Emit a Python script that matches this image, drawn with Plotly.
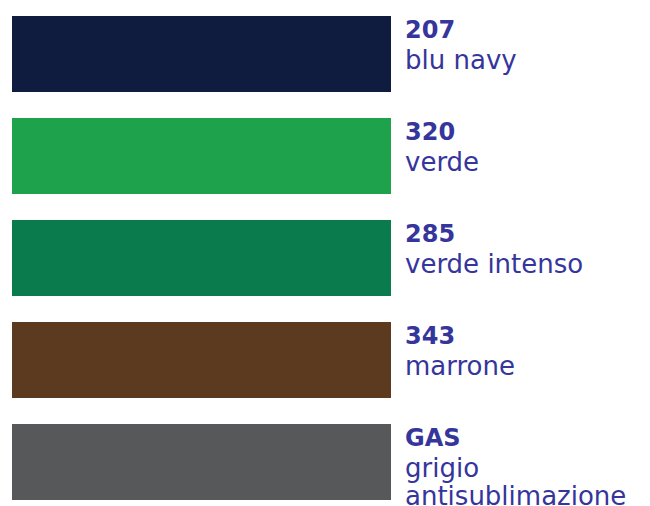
import plotly.graph_objects as go

codes = ["207", "320", "285", "343", "GAS"]
names = ["blu navy", "verde", "verde intenso", "marrone", "grigio<br>antisublimazione"]
swatch = [1, 1, 1, 1, 1]
colors = ["#0f1c40", "#1ea24b", "#0a7b4d", "#5c3a20", "#575859"]

TEXT = "#35359c"
FONT = "DejaVu Sans, Verdana, sans-serif"

fig = go.Figure()
fig.add_trace(go.Bar(
    y=list(range(len(codes))), x=swatch, orientation="h",
    marker=dict(color=colors, line=dict(width=0)),
    width=0.745, hoverinfo="skip",
))

annotations = []
for i, (c, n) in enumerate(zip(codes, names)):
    annotations.append(dict(
        xref="x", yref="y", x=1, y=i, xanchor="left", yanchor="middle",
        xshift=12, yshift=24, text="<b>" + c + "</b>", showarrow=False,
        font=dict(family=FONT, size=24, color=TEXT),
    ))
    lines = n.split("<br>")
    for j, ln in enumerate(lines):
        annotations.append(dict(
            xref="x", yref="y", x=1, y=i, xanchor="left", yanchor="middle",
            xshift=12, yshift=-6 - 28 * j, text=ln, showarrow=False,
            font=dict(family=FONT, size=26, color=TEXT),
        ))

fig.update_layout(
    width=650, height=506,
    margin=dict(l=4, r=267, t=0, b=0),
    paper_bgcolor="white", plot_bgcolor="white",
    showlegend=False,
    xaxis=dict(range=[0, 1], visible=False, fixedrange=True),
    yaxis=dict(range=[4.51, -0.451], visible=False, fixedrange=True),
    annotations=annotations,
    bargap=0,
)

fig.write_html("out.html", config={"displayModeBar": False})
